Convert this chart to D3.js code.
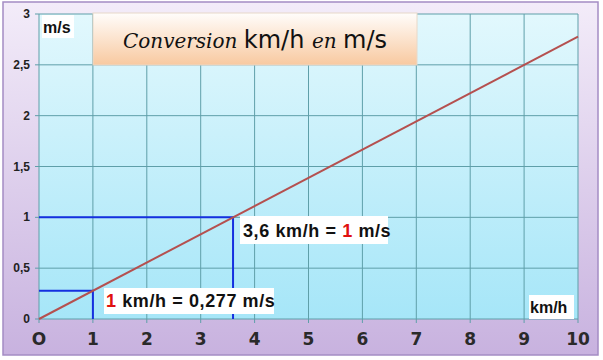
<!DOCTYPE html>
<html>
<head>
<meta charset="utf-8">
<script src="https://cdn.jsdelivr.net/npm/d3@7"></script>
<style>
  body{margin:0;background:#fff;}
  svg{display:block;}
</style>
</head>
<body>
<div class="chart"></div>
<script>
const width=603,
      height=360;

// data
const xTicks=[0,1,2,3,4,5,6,7,8,9,10];
const xTickLabels=["O","1","2","3","4","5","6","7","8","9","10"];
const yTicks=[0,0.5,1,1.5,2,2.5,3];
const yTickLabels=["0","0,5","1","1,5","2","2,5","3"];
const kmh=[0,10];
const ms=[0,2.777];
const guide1=[[0,1],[3.6,1],[3.6,0]];
const guide2=[[0,0.277],[1,0.277],[1,0]];

let x=d3.scaleLinear().domain([0,10]).range([39,578]);
let y=d3.scaleLinear().domain([0,3]).range([319,14]);

var svg=d3.select(".chart").append("svg")
          .attr("width",width)
          .attr("height",height);

let defs=svg.append("defs");
function grad(id,c1,c2){
  let g=defs.append("linearGradient").attr("id",id)
    .attr("x1",0).attr("y1",0).attr("x2",0).attr("y2",1);
  g.append("stop").attr("offset","0%").attr("stop-color",c1);
  g.append("stop").attr("offset","100%").attr("stop-color",c2);
}
grad("bg","#f3ecf9","#c8b2df");
grad("plot","#e2f8fd","#a6e6f8");
grad("title","#fffdfb","#f8c9a0");

// frame
svg.append("rect")
   .attr("x",3).attr("y",2).attr("width",595).attr("height",353)
   .attr("fill","url(#bg)")
   .attr("stroke","#a48cc4").attr("stroke-width",1.5);

// plot area
svg.append("rect")
   .attr("x",x(0)).attr("y",y(3))
   .attr("width",x(10)-x(0)).attr("height",y(0)-y(3))
   .attr("fill","url(#plot)");

// grid
svg.selectAll("line.vgrid")
   .data(xTicks)
   .enter().append("line")
   .attr("class","vgrid")
   .attr("x1",d=>x(d)).attr("x2",d=>x(d))
   .attr("y1",y(3)).attr("y2",y(0)+4)
   .attr("stroke","#5f9fa9").attr("stroke-width",1);

svg.selectAll("line.hgrid")
   .data(yTicks)
   .enter().append("line")
   .attr("class","hgrid")
   .attr("x1",x(0)-4).attr("x2",x(10))
   .attr("y1",d=>y(d)).attr("y2",d=>y(d))
   .attr("stroke","#5f9fa9").attr("stroke-width",1);

// tick labels
svg.selectAll("text.ylab")
   .data(yTicks)
   .enter().append("text")
   .attr("class","ylab")
   .attr("x",30).attr("y",d=>y(d)+4)
   .attr("text-anchor","end")
   .style("font-family","Liberation Sans")
   .style("font-weight","bold")
   .style("font-size","12px")
   .attr("fill","#222")
   .text((d,i)=>yTickLabels[i]);

svg.selectAll("text.xlab")
   .data(xTicks)
   .enter().append("text")
   .attr("class","xlab")
   .attr("x",d=>x(d)).attr("y",345)
   .attr("text-anchor","middle")
   .style("font-family","DejaVu Sans")
   .style("font-weight","bold")
   .style("font-size","17px")
   .attr("fill","#2a2a2a")
   .text((d,i)=>xTickLabels[i]);

// guides
let line=d3.line().x(d=>x(d[0])).y(d=>y(d[1]));
[guide1,guide2].forEach(g=>{
  svg.append("path")
     .attr("d",line(g))
     .attr("fill","none")
     .attr("stroke","#1530e0")
     .attr("stroke-width",2);
});

// conversion line
svg.append("path")
   .attr("d",line(kmh.map((d,i)=>[d,ms[i]])))
   .attr("fill","none")
   .attr("stroke","#b5504f")
   .attr("stroke-width",2);

// title box
svg.append("rect")
   .attr("x",93).attr("y",13).attr("width",324).attr("height",52)
   .attr("fill","url(#title)")
   .attr("stroke","#e8d8c8").attr("stroke-width",1);

let title=svg.append("text")
   .attr("x",255).attr("y",48)
   .attr("text-anchor","middle")
   .attr("fill","#111");
title.append("tspan").text("Conversion ")
   .style("font-family","DejaVu Serif").style("font-style","italic")
   .style("font-size","20px");
title.append("tspan").text("km/h ")
   .style("font-family","DejaVu Sans").style("font-size","24px");
title.append("tspan").text("en ")
   .style("font-family","DejaVu Serif").style("font-style","italic")
   .style("font-size","20px");
title.append("tspan").text("m/s")
   .style("font-family","DejaVu Sans").style("font-size","24px");

// labels with white boxes
function label(bx,by,bw,bh,tx,ty,parts,size,sp){
  svg.append("rect").attr("x",bx).attr("y",by).attr("width",bw).attr("height",bh)
     .attr("fill","#fff");
  let t=svg.append("text").attr("x",tx).attr("y",ty)
     .style("font-family","Liberation Sans")
     .style("font-weight","bold")
     .style("letter-spacing",sp+"px")
     .style("font-size",size+"px");
  parts.forEach(p=>t.append("tspan").text(p[0]).attr("fill",p[1]));
}

label(42,15,32,23,43,33,[["m/s","#111"]],16,0);
label(529,295,45,24,530,313,[["km/h","#111"]],16,0);
label(240,216,148,28,243,237,[["3,6 km/h = ","#111"],["1","#e01010"],[" m/s","#111"]],18,0.6);
label(104,288,170,26,106,307,[["1","#e01010"],[" km/h = 0,277 m/s","#111"]],18,0.6);
</script>
</body>
</html>
